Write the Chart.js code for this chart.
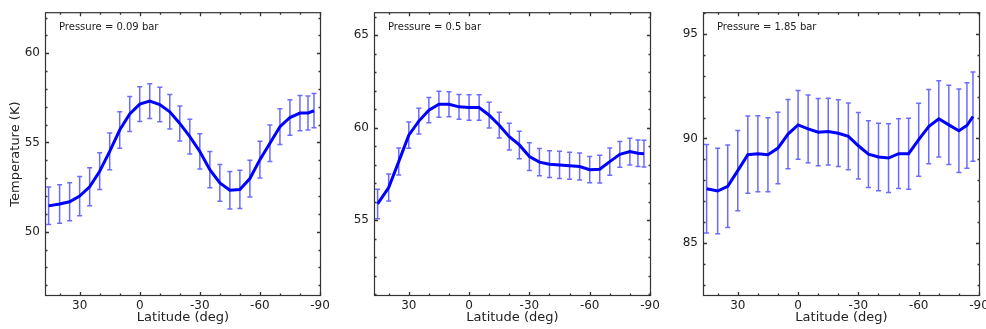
<!DOCTYPE html>
<html><head><meta charset="utf-8">
<script src="https://cdn.jsdelivr.net/npm/chart.js@4"></script>
<style>
html,body{margin:0;padding:0;background:#fff;width:986px;height:329px;overflow:hidden;position:relative}
canvas{position:absolute;top:0}
</style></head><body>
<canvas id="c1" width="340" height="329" style="left:0px"></canvas>
<canvas id="c2" width="340" height="329" style="left:330px"></canvas>
<canvas id="c3" width="340" height="329" style="left:660px"></canvas>
<script>
// ---- data ----
const latitudes = [45.5, 40, 35, 30, 25, 20, 15, 10, 5, 0, -5, -10, -15, -20, -25, -30, -35, -40, -45, -50, -55, -60, -65, -70, -75, -80, -84, -87];

const temp009 = [51.45, 51.55, 51.68, 52.0, 52.52, 53.39, 54.5, 55.7, 56.6, 57.15, 57.32, 57.13, 56.72, 56.07, 55.33, 54.5, 53.48, 52.74, 52.33, 52.37, 52.98, 54.04, 54.96, 55.89, 56.4, 56.65, 56.65, 56.78];
const err009  = [1.05, 1.08, 1.07, 1.1, 1.06, 1.03, 1.03, 1.02, 0.98, 0.97, 0.97, 0.97, 0.97, 0.98, 0.97, 0.99, 1.02, 1.03, 1.05, 1.07, 1.03, 1.03, 1.02, 1.0, 0.99, 0.99, 0.95, 0.96];

const temp05 = [55.88, 56.77, 58.17, 59.6, 60.36, 60.95, 61.27, 61.27, 61.13, 61.09, 61.09, 60.68, 60.14, 59.52, 59.07, 58.44, 58.14, 58.03, 57.99, 57.94, 57.9, 57.73, 57.76, 58.17, 58.56, 58.71, 58.62, 58.6];
const err05  = [0.8, 0.73, 0.73, 0.71, 0.7, 0.68, 0.7, 0.68, 0.67, 0.69, 0.69, 0.7, 0.7, 0.72, 0.74, 0.75, 0.74, 0.72, 0.74, 0.73, 0.73, 0.71, 0.75, 0.74, 0.7, 0.72, 0.72, 0.72];

const temp185 = [87.59, 87.48, 87.71, 88.46, 89.22, 89.27, 89.22, 89.54, 90.21, 90.65, 90.46, 90.3, 90.33, 90.25, 90.1, 89.65, 89.25, 89.11, 89.06, 89.27, 89.27, 89.94, 90.57, 90.94, 90.65, 90.37, 90.62, 91.05];
const err185  = [2.12, 2.05, 1.98, 1.92, 1.85, 1.82, 1.77, 1.71, 1.66, 1.65, 1.62, 1.61, 1.6, 1.6, 1.6, 1.59, 1.6, 1.62, 1.65, 1.67, 1.7, 1.75, 1.78, 1.83, 1.9, 2.0, 2.05, 2.14];

const xTickLabels = [30, 0, -30, -60, -90];
const yTicks009 = [50, 55, 60];
const yTicks05  = [55, 60, 65];
const yTicks185 = [85, 90, 95];
const pressureLabels = ['Pressure = 0.09 bar', 'Pressure = 0.5 bar', 'Pressure = 1.85 bar'];
const xLabel = 'Latitude (deg)';
const yLabel = 'Temperature (K)';

// ---- plugins ----
const errorBarPlugin = {
  id: 'errbars',
  beforeDatasetsDraw(chart, args, opts) {
    const {ctx, scales: {x, y}} = chart;
    const ds = chart.data.datasets[0];
    const errs = opts.errors || [];
    ctx.save();
    ctx.strokeStyle = 'rgba(50,50,255,0.72)';
    ctx.lineWidth = 1.5;
    ds.data.forEach((p, i) => {
      const px = x.getPixelForValue(p.x);
      const yt = y.getPixelForValue(p.y + errs[i]);
      const yb = y.getPixelForValue(p.y - errs[i]);
      ctx.beginPath();
      ctx.moveTo(px, yt); ctx.lineTo(px, yb);
      ctx.moveTo(px - 2.5, yt); ctx.lineTo(px + 2.5, yt);
      ctx.moveTo(px - 2.5, yb); ctx.lineTo(px + 2.5, yb);
      ctx.stroke();
    });
    ctx.restore();
  }
};

const framePlugin = {
  id: 'frame',
  afterDraw(chart, args, opts) {
    const {ctx, chartArea: a, scales: {x, y}} = chart;
    ctx.save();
    ctx.strokeStyle = '#333';
    ctx.lineWidth = 1.2;
    ctx.strokeRect(a.left + 0.5, a.top + 0.5, a.right - a.left - 1, a.bottom - a.top - 1);
    ctx.beginPath();
    const xmin = Math.min(x.min, x.max), xmax = Math.max(x.min, x.max);
    for (let v = Math.ceil(xmin / 10) * 10; v <= xmax; v += 10) {
      const px = Math.round(x.getPixelForValue(v)) + 0.5;
      const len = (v % 30 === 0) ? 4 : 2.5;
      ctx.moveTo(px, a.bottom); ctx.lineTo(px, a.bottom - len);
      ctx.moveTo(px, a.top); ctx.lineTo(px, a.top + len);
    }
    for (let v = Math.ceil(y.min); v <= y.max; v += 1) {
      const py = Math.round(y.getPixelForValue(v)) + 0.5;
      const len = (v % 5 === 0) ? 4 : 2.5;
      ctx.moveTo(a.left, py); ctx.lineTo(a.left + len, py);
      ctx.moveTo(a.right, py); ctx.lineTo(a.right - len, py);
    }
    ctx.lineWidth = 1.3;
    ctx.stroke();
    // pressure annotation
    ctx.fillStyle = '#222';
    ctx.font = '10px "DejaVu Sans"';
    ctx.textBaseline = 'middle';
    ctx.textAlign = 'left';
    ctx.fillText(opts.label, a.left + 14, a.top + 15);
    ctx.restore();
  }
};

function makeChart(id, temps, errs, yTicks, yMin, yMax, L, padRight, label, showYTitle) {
  const font = {family: 'DejaVu Sans', size: 12};
  new Chart(document.getElementById(id), {
    type: 'line',
    data: {
      datasets: [{
        data: latitudes.map((lat, i) => ({x: lat, y: temps[i]})),
        borderColor: '#0000ff',
        borderWidth: 3,
        pointRadius: 0,
        tension: 0,
        fill: false
      }]
    },
    options: {
      responsive: false,
      animation: false,
      devicePixelRatio: 1,
      layout: {padding: {left: 0, right: padRight, top: 10, bottom: 0}},
      plugins: {
        legend: {display: false},
        tooltip: {enabled: false},
        errbars: {errors: errs},
        frame: {label: label}
      },
      scales: {
        x: {
          type: 'linear',
          reverse: true,
          min: -90.5,
          max: 47.3,
          afterBuildTicks: s => { s.ticks = xTickLabels.map(v => ({value: v})); },
          afterFit: s => { s.height = 33; },
          grid: {display: false, drawTicks: false},
          border: {display: false},
          ticks: {font: font, color: '#222', padding: 3, maxRotation: 0, autoSkip: false, callback: v => String(v)},
          title: {display: true, text: xLabel, font: {family: 'DejaVu Sans', size: 13}, color: '#222', padding: {top: 4, bottom: 4}}
        },
        y: {
          type: 'linear',
          min: yMin,
          max: yMax,
          afterBuildTicks: s => { s.ticks = yTicks.map(v => ({value: v})); },
          afterFit: s => { s.width = L; },
          grid: {display: false, drawTicks: false},
          border: {display: false},
          ticks: {font: font, color: '#222', padding: 5, callback: v => String(v)},
          title: {display: showYTitle, text: yLabel, font: {family: 'DejaVu Sans', size: 13}, color: '#222', padding: {top: 8, bottom: 4}}
        }
      }
    },
    plugins: [errorBarPlugin, framePlugin]
  });
}

makeChart('c1', temp009, err009, yTicks009, 46.4, 62.3, 45, 19, pressureLabels[0], true);
makeChart('c2', temp05, err05, yTicks05, 50.9, 66.25, 44, 19, pressureLabels[1], false);
makeChart('c3', temp185, err185, yTicks185, 82.45, 96.05, 43, 20, pressureLabels[2], false);
</script>
</body></html>
